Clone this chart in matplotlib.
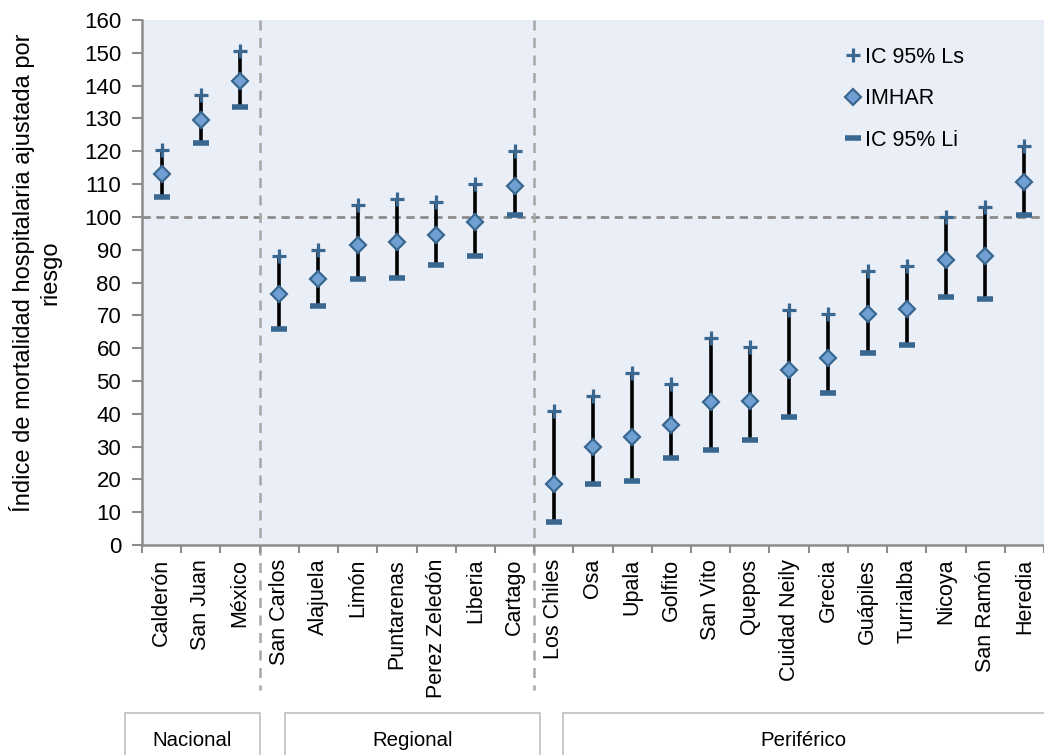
import numpy as np
import matplotlib.pyplot as plt
from matplotlib.patches import Rectangle

plt.rcParams['font.family'] = ['Liberation Sans', 'DejaVu Sans']

hospitales = ['Calderón', 'San Juan', 'México',
              'San Carlos', 'Alajuela', 'Limón', 'Puntarenas', 'Perez Zeledón',
              'Liberia', 'Cartago',
              'Los Chiles', 'Osa', 'Upala', 'Golfito', 'San Vito', 'Quepos',
              'Cuidad Neily', 'Grecia', 'Guápiles', 'Turrialba', 'Nicoya',
              'San Ramón', 'Heredia']
ic_ls = [120.5, 137, 150.5,
         88, 90, 103.5, 105.5, 104.5, 110, 120,
         41, 45.5, 52.5, 49, 63, 60.5, 71.5, 70.5, 83.5, 85, 100, 103, 121.5]
imhar = [113, 129.5, 141.5,
         76.5, 81, 91.5, 92.5, 94.5, 98.5, 109.5,
         18.5, 30, 33, 36.5, 43.5, 44, 53.5, 57, 70.5, 72, 87, 88, 110.5]
ic_li = [106, 122.5, 133.5,
         66, 73, 81, 81.5, 85.5, 88, 100.5,
         7, 18.5, 19.5, 26.5, 29, 32, 39, 46.5, 58.5, 61, 75.5, 75, 100.5]
grupos = ['Nacional', 'Regional', 'Periférico']
n_grupo = [3, 7, 13]

x = np.arange(len(hospitales)) + 0.5
azul = '#3a6790'

fig = plt.figure(figsize=(10.44, 7.55), dpi=100)
ax = fig.add_axes([0.136, 0.278, 0.864, 0.6955])
ax.set_facecolor('#eaeff7')

ax.vlines(x, ic_li, ic_ls, color='black', lw=2.6, zorder=2)
ax.plot(x, ic_ls, ls='none', marker='+', ms=10, mew=2.3, color=azul,
        label='IC 95% Ls', zorder=3)
ax.plot(x, imhar, ls='none', marker='D', ms=8.5, mew=1.6, mfc='#6f9fd3',
        mec=azul, label='IMHAR', zorder=4)
ax.plot(x, ic_li, ls='none', marker='_', ms=11, mew=4, color=azul,
        label='IC 95% Li', zorder=3)

# referencia en 100 y separadores de grupos
ax.axhline(100, color='#8c8c8c', lw=2, ls=(0, (3, 2)), zorder=1)
limites = np.cumsum(n_grupo)[:-1]
for b in limites:
    ax.plot([b, b], [1, -0.276], transform=ax.get_xaxis_transform(),
            color='#a6a6a6', lw=1.8, ls=(0, (4, 3)), clip_on=False, zorder=1)

ax.set_xlim(0, len(hospitales))
ax.set_ylim(0, 160)
ax.set_yticks(np.arange(0, 161, 10))
ax.set_xticks(np.arange(0, len(hospitales) + 1))
ax.set_xticklabels([])
ax.set_xticks(x, minor=True)
ax.set_xticklabels(hospitales, minor=True, rotation=90, fontsize=15.5)
ax.tick_params(axis='x', which='minor', length=0, pad=10)
ax.tick_params(axis='x', which='major', length=6, width=1.5, color='#8c8c8c')
ax.tick_params(axis='y', length=7, width=1.5, color='#8c8c8c', labelsize=16,
               pad=8)
for s in ['top', 'right']:
    ax.spines[s].set_visible(False)
for s in ['left', 'bottom']:
    ax.spines[s].set_color('#8c8c8c')
    ax.spines[s].set_linewidth(1.8)

ax.set_ylabel('Índice de mortalidad hospitalaria ajustada por\nriesgo',
              fontsize=17, linespacing=1.25)
ax.yaxis.set_label_coords(-0.089, 0.518)

ax.legend(loc='upper left', bbox_to_anchor=(0.772, 0.965), borderaxespad=0,
          frameon=False, fontsize=15.5, handlelength=0.6, handletextpad=0.25,
          labelspacing=0.95)

# cajas de grupo bajo el eje
cajas = [(125, 260), (285, 540), (563, 1060)]
for (x0, x1), nombre in zip(cajas, grupos):
    fig.patches.append(Rectangle((x0 / 1044, -0.05), (x1 - x0) / 1044,
                                 (0.05 + 42 / 755), transform=fig.transFigure,
                                 fill=False, ec='#bfbfbf', lw=1.2))
    fig.text((x0 + min(x1, 1044)) / 2 / 1044, 15 / 755, nombre,
             ha='center', va='center', fontsize=14.7)

fig.savefig('out.png', dpi=100)
